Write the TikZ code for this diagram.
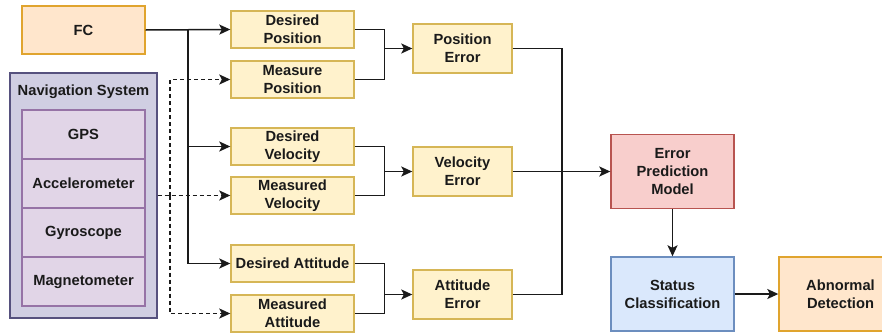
\documentclass[tikz,border=0pt]{standalone}
\usepackage{fontspec}
\setmainfont{Liberation Sans}
\usetikzlibrary{arrows.meta,calc}
\definecolor{orfill}{HTML}{FFE6CC}\definecolor{ordraw}{HTML}{E0A42E}
\definecolor{yefill}{HTML}{FFF2CC}\definecolor{yedraw}{HTML}{D6B656}
\definecolor{pufill}{HTML}{D0CEE2}\definecolor{pudraw}{HTML}{56517E}
\definecolor{lpfill}{HTML}{E1D5E7}\definecolor{lpdraw}{HTML}{9673A6}
\definecolor{refill}{HTML}{F8CECC}\definecolor{redraw}{HTML}{B85450}
\definecolor{blfill}{HTML}{DAE8FC}\definecolor{bldraw}{HTML}{6C8EBF}
\definecolor{txt}{HTML}{1A1A1A}
\tikzset{
  lbl/.style={font=\fontsize{14.7}{18}\selectfont\bfseries, text=txt},
  box/.style={lbl, rectangle, line width=1.4pt, inner sep=0pt, align=center},
  fcbox/.style={box, fill=orfill, draw=ordraw, minimum width=123pt, minimum height=48pt},
  navbox/.style={box, fill=pufill, draw=pudraw, minimum width=147pt, minimum height=245pt},
  sensor/.style={box, fill=lpfill, draw=lpdraw, minimum width=123pt, minimum height=49pt},
  signal/.style={box, fill=yefill, draw=yedraw, minimum width=123pt, minimum height=37pt},
  errbox/.style={box, fill=yefill, draw=yedraw, minimum width=99pt, minimum height=49pt},
  modelbox/.style={box, fill=refill, draw=redraw, minimum width=123pt, minimum height=74pt},
  classbox/.style={box, fill=blfill, draw=bldraw, minimum width=123pt, minimum height=74pt},
  detbox/.style={box, fill=orfill, draw=ordraw, minimum width=123pt, minimum height=74pt},
  wire/.style={line width=1.5pt, draw=txt},
  arr/.style={wire, -{Stealth[length=11pt,width=10pt,inset=2.5pt]}},
  darr/.style={arr, dashed, dash pattern=on 4pt off 3pt}
}
\begin{document}
\begin{tikzpicture}[x=1pt,y=-1pt]
\useasboundingbox (0,0) rectangle (882,335);
\clip (0,0) rectangle (882,335);
\fill[white] (0,0) rectangle (882,335);

% sources
\node[fcbox] (fc) at (83.5,30) {FC};
\node[navbox] (nav) at (83.5,195.5) {};
\node[lbl] (navlbl) at (83.5,91.5) {Navigation System};
\node[sensor] (gps) at (83.5,134.5) {GPS};
\node[sensor] (acc) at (83.5,183.5) {Accelerometer};
\node[sensor] (gyr) at (83.5,232.5) {Gyroscope};
\node[sensor] (mag) at (83.5,281.5) {Magnetometer};

% desired / measured signals
\node[signal] (dp) at (292.5,29.5) {Desired\\Position};
\node[signal] (mp) at (292.5,79.5) {Measure\\Position};
\node[signal] (dv) at (292.5,146.5) {Desired\\Velocity};
\node[signal] (mv) at (292.5,195.5) {Measured\\Velocity};
\node[signal] (da) at (292.5,263.5) {Desired Attitude};
\node[signal] (ma) at (292.5,313.5) {Measured\\Attitude};

% errors
\node[errbox] (pe) at (462.5,48.5) {Position\\Error};
\node[errbox] (ve) at (462.5,171.5) {Velocity\\Error};
\node[errbox] (ae) at (462.5,294.5) {Attitude\\Error};

% model and outputs
\node[modelbox] (epm) at (672.5,171.5) {Error\\Prediction\\Model};
\node[classbox] (sc) at (672.5,294) {Status\\Classification};
\node[detbox] (ad) at (840.5,294) {Abnormal\\Detection};

% flight controller feeds the desired values
\coordinate (fcj) at (188,30);
\draw[arr] (fc.east) -- (dp.west);
\draw[arr] (fcj) |- (da.west);
\draw[arr] (fcj |- dv.west) -- (dv.west);

% navigation system feeds the measured values
\coordinate (nj) at (170,195.5);
\draw[darr] (nav.east |- mv.west) -- (mv.west);
\draw[darr] (nj) |- (mp.west);
\draw[darr] (nj) |- (ma.west);

% differences
\draw[wire] (dp.east) -- ++(30,0) coordinate (pj) |- (mp.east);
\draw[arr] (pj |- pe.west) -- (pe.west);
\draw[wire] (dv.east) -- ++(30,0) coordinate (vj) |- (mv.east);
\draw[arr] (vj |- ve.west) -- (ve.west);
\draw[wire] (da.east) -- ++(30,0) coordinate (aj) |- (ma.east);
\draw[arr] (aj |- ae.west) -- (ae.west);

% errors into the model
\coordinate (ej) at (562,48.5);
\draw[wire] (pe.east) -- (ej) |- (ae.east);
\draw[arr] (ve.east) -- (epm.west);
\draw[arr] (epm.south) -- (sc.north);
\draw[arr] (sc.east) -- (ad.west);
\end{tikzpicture}
\end{document}
